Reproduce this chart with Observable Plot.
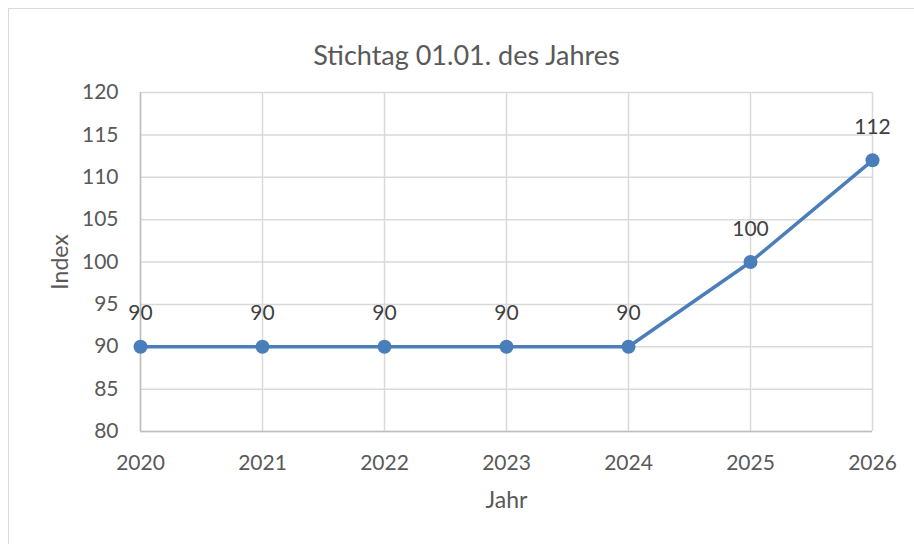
<!DOCTYPE html>
<html><head><meta charset="utf-8">
<script src="https://cdn.jsdelivr.net/npm/d3@7"></script>
<script src="https://cdn.jsdelivr.net/npm/@observablehq/plot@0.6"></script>
<style>
html,body{margin:0;padding:0;background:#fff;}
#wrap{position:relative;width:914px;height:544px;overflow:hidden;}
#frame{position:absolute;left:8px;top:8px;width:940px;height:580px;border:1px solid #d9d9d9;box-sizing:border-box;}
#chart{position:absolute;left:0;top:0;}
</style></head>
<body><div id="wrap"><div id="frame"></div><div id="chart"></div></div>
<script>
const title = "Stichtag 01.01. des Jahres";
const xLabel = "Jahr";
const yLabel = "Index";
const years = [2020, 2021, 2022, 2023, 2024, 2025, 2026];
const values = [90, 90, 90, 90, 90, 100, 112];
const yTicks = [80, 85, 90, 95, 100, 105, 110, 115, 120];

const data = years.map((y, i) => ({year: y, value: values[i]}));
const font = "Lato, 'Open Sans', sans-serif";
const textColor = "#595959";
const blue = "#4a7ebb";

const plot = Plot.plot({
  width: 914, height: 544,
  marginLeft: 140, marginRight: 42, marginTop: 92, marginBottom: 113,
  style: {fontFamily: font, background: "transparent", color: textColor, overflow: "visible"},
  x: {domain: [2020, 2026], ticks: years, tickFormat: d => String(d), label: null},
  y: {domain: [80, 120], ticks: yTicks, label: null},
  marks: [
    Plot.gridX(years, {stroke: "#d9d9d9", strokeOpacity: 1, strokeWidth: 1.5}),
    Plot.gridY(yTicks, {stroke: "#d9d9d9", strokeOpacity: 1, strokeWidth: 1.5}),
    Plot.ruleY([80], {stroke: "#bfbfbf", strokeWidth: 1.5}),
    Plot.ruleX([2020], {stroke: "#bfbfbf", strokeWidth: 1.5}),
    Plot.axisX({ticks: years, tickFormat: d => String(d), tickSize: 0, tickPadding: 24, fontSize: 21, fill: textColor, label: null}),
    Plot.axisY({ticks: yTicks, tickSize: 0, tickPadding: 22, fontSize: 21, fill: textColor, label: null}),
    Plot.line(data, {x: "year", y: "value", stroke: blue, strokeWidth: 3.5}),
    Plot.dot(data, {x: "year", y: "value", r: 7, fill: blue, stroke: "none"}),
    Plot.text(data, {x: "year", y: "value", text: d => String(d.value), dy: -33, fontSize: 21, fill: "#404040"}),
    Plot.text([title], {frameAnchor: "top-left", textAnchor: "middle", dx: 466 - 140, dy: -47, fontSize: 27, fill: textColor}),
    Plot.text([xLabel], {frameAnchor: "bottom", dy: 76, fontSize: 23, fill: textColor}),
    Plot.text([yLabel], {frameAnchor: "left", textAnchor: "middle", dx: -80, rotate: -90, fontSize: 23, fill: textColor})
  ]
});
document.getElementById("chart").appendChild(plot);
</script></body></html>
